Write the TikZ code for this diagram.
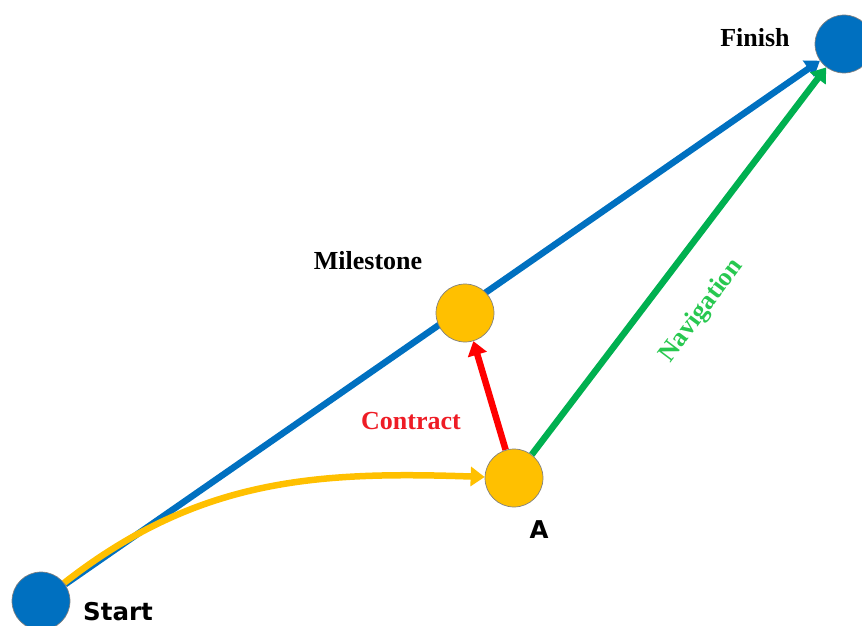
\documentclass[tikz,border=0pt]{standalone}
\usepackage{fontspec}
\setmainfont{Liberation Serif}
\newfontfamily\labelsans{DejaVu Sans}
\usetikzlibrary{arrows.meta,backgrounds}
\definecolor{pathblue}{HTML}{0070C0}
\definecolor{stopgold}{HTML}{FFC000}
\definecolor{navgreen}{HTML}{00B050}
\definecolor{navtext}{RGB}{40,200,80}
\definecolor{contractred}{HTML}{EE1C25}
\begin{document}
\begin{tikzpicture}[x=1pt,y=-1pt,
  endpoint/.style={circle,fill=pathblue,draw=gray,line width=0.7pt,minimum size=58pt,inner sep=0pt},
  waypoint/.style={circle,fill=stopgold,draw=gray,line width=0.7pt,minimum size=58pt,inner sep=0pt},
  conn/.style={line width=6.5pt,-{Triangle[length=14pt,width=19pt]}},
  serifname/.style={font=\fontsize{26}{30}\selectfont\bfseries},
  sansname/.style={font=\fontsize{24.5}{28}\selectfont\labelsans\bfseries}]
 \clip (0,0) rectangle (862,626);
 \node[endpoint] (start) at (41,601) {};
 \node[endpoint] (finish) at (844,44) {};
 \node[waypoint] (milestone) at (465,313) {};
 \node[waypoint] (a) at (514,478) {};
 % connectors behind the circles
 \begin{scope}[on background layer]
 \draw[conn,pathblue] (start) -- (finish);
 \draw[conn,stopgold] (start) to[out=38,in=178] (a);
 \draw[conn,red] (a) -- (milestone);
 \draw[conn,navgreen] (a) -- (finish);
 \end{scope}
 % labels
 \node[serifname] (finishlbl) at (755,38) {Finish};
 \node[serifname] (milestonelbl) at (368,261) {Milestone};
 \node[serifname,text=contractred] (contractlbl) at (411,421) {Contract};
 \node[serifname,text=navtext,rotate=53] (navlbl) at (702,311) {Navigation};
 \node[sansname] (alabel) at (539,530) {A};
 \node[sansname] (startlbl) at (118,612) {Start};
\end{tikzpicture}
\end{document}
